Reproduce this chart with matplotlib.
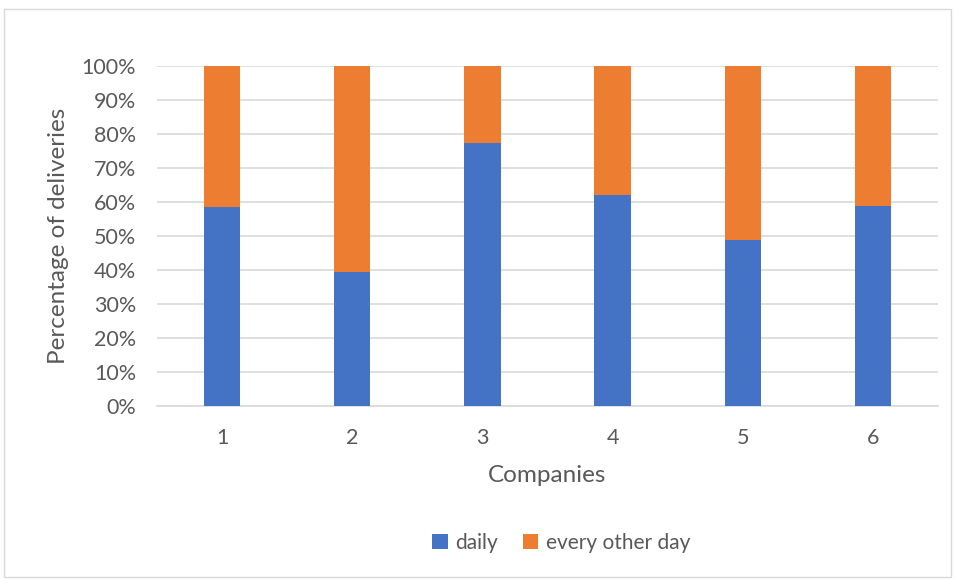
import matplotlib
matplotlib.use("Agg")
import matplotlib.pyplot as plt
from matplotlib.patches import Rectangle
from matplotlib.ticker import PercentFormatter

companies = ["1", "2", "3", "4", "5", "6"]
daily = [58.4, 39.2, 77.3, 62.1, 48.7, 58.8]
every_other_day = [100 - d for d in daily]
y_ticks = list(range(0, 101, 10))

BLUE = "#4472C4"
ORANGE = "#ED7D31"
GRID = "#d9d9d9"
TEXT = "#595959"

plt.rcParams["font.family"] = ["Lato", "DejaVu Sans"]

fig = plt.figure(figsize=(9.55, 5.8), dpi=100)
ax = fig.add_axes([157 / 955, 1 - 405.7 / 580, 781 / 955, 340 / 580])

x = range(len(companies))
ax.bar(x, daily, width=0.28, color=BLUE, label="daily", zorder=3)
ax.bar(x, every_other_day, width=0.28, bottom=daily, color=ORANGE,
       label="every other day", zorder=3)

ax.set_xlim(-0.5, len(companies) - 0.5)
ax.set_ylim(0, 100)
ax.set_yticks(y_ticks)
ax.yaxis.set_major_formatter(PercentFormatter(decimals=0))
ax.set_xticks(list(x))
ax.set_xticklabels(companies)
ax.grid(axis="y", color=GRID, linewidth=1.2, zorder=0)
ax.tick_params(length=0, labelsize=15.5, colors=TEXT)
ax.tick_params(axis="y", pad=15)
ax.tick_params(axis="x", pad=16)
for side in ("top", "right", "left"):
    ax.spines[side].set_visible(False)
ax.spines["bottom"].set_color(GRID)
ax.spines["bottom"].set_linewidth(1.2)

ax.set_xlabel("Companies", fontsize=17.5, color=TEXT, labelpad=12)
ax.set_ylabel("Percentage of deliveries", fontsize=17.5, color=TEXT, labelpad=9)

fig.legend(loc="center", bbox_to_anchor=(561 / 955, 1 - 543 / 580), ncol=2,
           frameon=False, fontsize=15, labelcolor=TEXT, handlelength=0.75,
           handleheight=0.75, handletextpad=0.35, columnspacing=1.2)

# thin grey frame around the whole chart
fig.patches.append(Rectangle((4 / 955, 3 / 580), 947 / 955, 568 / 580,
                             transform=fig.transFigure, fill=False,
                             edgecolor="#d9d9d9", linewidth=1))

fig.savefig("out.png", dpi=100)
